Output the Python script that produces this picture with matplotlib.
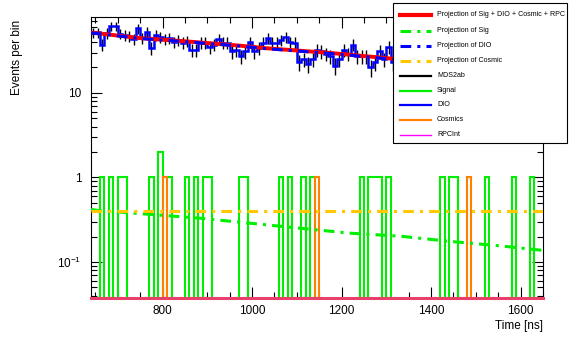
import numpy as np
import matplotlib
matplotlib.use('Agg')
import matplotlib.pyplot as plt
from matplotlib.lines import Line2D
from matplotlib.patches import Rectangle
from matplotlib.ticker import MultipleLocator, FixedLocator, FixedFormatter, LogLocator, NullFormatter

plt.rcParams['font.family'] = ['Liberation Sans', 'DejaVu Sans']
plt.rcParams['mathtext.fontset'] = 'custom'
plt.rcParams['mathtext.rm'] = 'Liberation Sans'
plt.rcParams['mathtext.default'] = 'regular'

# --- data (10 ns bins from 640 to 1650 ns) ---
t_lo, t_hi, bin_w = 640, 1650, 10

# MDS2ab data / DIO histogram, counts per bin
data_counts = [52, 52, 37, 51, 62, 62, 50, 48, 47, 43,
               58, 44, 53, 34, 48, 46, 43, 44, 40, 42,
               39, 41, 32, 32, 39, 39, 35, 37, 43, 39,
               39, 31, 32, 27, 31, 40, 31, 34, 39, 44,
               39, 39, 42, 46, 40, 39, 23, 25, 22, 25,
               32, 31, 29, 27, 21, 25, 32, 29, 37, 27,
               27, 27, 20, 23, 31, 25, 35, 23, 26, 22,
               24, 28, 21, 23, 25, 20, 22, 27, 24, 19,
               23, 21, 25, 22, 18, 24, 21, 20, 23, 19,
               22, 18, 21, 24, 19, 20, 22, 18, 21, 19, 20]

# Signal and cosmic events (bin centres, ns)
signal_times = [665, 685, 705, 715, 775, 795, 795, 815, 855, 875,
                895, 905, 975, 985, 1065, 1085, 1115, 1135, 1245, 1265,
                1275, 1285, 1305, 1425, 1445, 1455, 1525, 1585, 1625]
cosmic_times = [805, 1145, 1485]

# fit projections
fit_t = [640, 750, 860, 970, 1030, 1180, 1310, 1450, 1650]
fit_total = [51.8, 44.4, 40.4, 36.3, 33.8, 29.5, 25.5, 23.0, 20.0]
fit_dio = [51.3, 44.0, 40.0, 35.9, 33.4, 29.1, 25.1, 22.6, 19.6]
sig_t = [640, 657, 882, 1107, 1219, 1331, 1443, 1555, 1650]
sig_proj = [0.418, 0.407, 0.33, 0.251, 0.219, 0.202, 0.175, 0.155, 0.137]
cos_t = [640, 1650]
cos_proj = [0.40, 0.40]

chi2_text = '\u03c7\u00b2/ndf = 0.72'

edges = np.arange(t_lo, t_hi + bin_w, bin_w)
centres = 0.5 * (edges[:-1] + edges[1:])
data = np.array(data_counts, dtype=float)
sig_h, _ = np.histogram(signal_times, bins=edges)
cos_h, _ = np.histogram(cosmic_times, bins=edges)

ymin, ymax = 0.0375, 79
floor = 1e-3

fig = plt.figure(figsize=(5.71, 3.56), dpi=100)
ax = fig.add_axes([91 / 571, 1 - 298 / 356, 452 / 571, 281 / 356])
ax.set_yscale('log')
ax.set_xlim(t_lo, t_hi)
ax.set_ylim(ymin, ymax)

# signal / cosmics histograms (zeros dropped below axis)
ax.stairs(np.where(sig_h > 0, sig_h, floor), edges, baseline=None,
          color='#00ee00', lw=1.5, zorder=2)
ax.stairs(np.where(cos_h > 0, cos_h, floor), edges, baseline=None,
          color='#ff7f00', lw=1.5, zorder=2.1)
# RPCInt (empty) sits on the axis floor
ax.plot([t_lo, t_hi], [ymin, ymin], color='#e8406a', lw=2.2,
        clip_on=False, zorder=3)

# data + DIO
ax.errorbar(centres, data, yerr=np.sqrt(data), fmt='none', ecolor='black',
            elinewidth=1.0, zorder=3)
ax.stairs(data, edges, baseline=None, color='blue', lw=1.8, zorder=4)

# projections
dd = (0, (3.5, 2, 1, 2))
ax.plot(fit_t, fit_total, color='red', lw=2.8, zorder=5)
ax.plot(fit_t, fit_dio, color='blue', lw=2.2, ls=dd, zorder=6)
ax.plot(sig_t, sig_proj, color='#00ee00', lw=2.2, ls=dd, zorder=5)
ax.plot(cos_t, cos_proj, color='#ffc800', lw=2.2, ls=dd, zorder=5)

# axes style (ROOT-like)
ax.xaxis.set_major_locator(MultipleLocator(200))
ax.xaxis.set_minor_locator(MultipleLocator(50))
ax.yaxis.set_major_locator(FixedLocator([0.1, 1, 10]))
ax.yaxis.set_major_formatter(FixedFormatter(['$10^{-1}$', '1', '10']))
ax.yaxis.set_minor_locator(LogLocator(base=10, subs=np.arange(2, 10)))
ax.yaxis.set_minor_formatter(NullFormatter())
ax.tick_params(which='both', direction='in', top=True, right=True, width=0.8)
ax.tick_params(which='major', length=8, labelsize=8.5)
ax.tick_params(axis='x', which='major', pad=5)
ax.tick_params(axis='y', which='major', pad=7)
ax.tick_params(which='minor', length=4)
for s in ax.spines.values():
    s.set_linewidth(0.8)

ax.set_ylabel('Events per bin', fontsize=8.5, loc='top')
ax.yaxis.set_label_coords(-68 / 452, 1 - 3 / 281)
ax.text(1.0, -0.1, 'Time [ns]', transform=ax.transAxes, ha='right',
        va='center', fontsize=8.5)
ax.text(0.998, 0.585, chi2_text, transform=ax.transAxes, ha='right',
        va='center', fontsize=10.5, zorder=10)

# legend box (drawn in figure pixels)
W, H = 571, 356
fig.add_artist(Rectangle((393 / W, 1 - 143 / H), 174 / W, 140 / H,
                         transform=fig.transFigure, facecolor='white',
                         edgecolor='black', lw=0.8, zorder=20))
entries = [
    ('Projection of Sig + DIO + Cosmic + RPC', 'red', '-', 3.0),
    ('Projection of Sig', '#00ee00', dd, 2.2),
    ('Projection of DIO', 'blue', dd, 2.2),
    ('Projection of Cosmic', '#ffc800', dd, 2.2),
    ('MDS2ab', 'black', '-', 1.6),
    ('Signal', '#00ee00', '-', 1.6),
    ('DIO', 'blue', '-', 1.6),
    ('Cosmics', '#ff7f00', '-', 1.6),
    ('RPCInt', 'magenta', '-', 1.0),
]
row_y = [15, 30.5, 45.5, 61, 75.5, 91, 105, 119.5, 135]
for (lab, col, ls, lw), yy in zip(entries, row_y):
    fig.add_artist(Line2D([400 / W, 431 / W], [1 - yy / H] * 2,
                          transform=fig.transFigure, color=col, ls=ls,
                          lw=lw, zorder=21))
    fig.text(437 / W, 1 - yy / H, lab, ha='left', va='center',
             fontsize=5.1, zorder=22)

fig.savefig('out.png', dpi=100)
